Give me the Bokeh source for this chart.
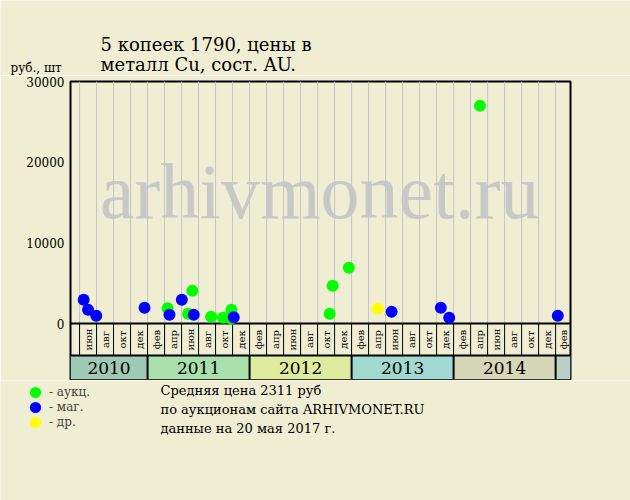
import numpy as np
import pandas as pd
from bokeh.plotting import figure
from bokeh.layouts import column
from bokeh.models import Range1d, FixedTicker, Label, Legend, LegendItem
from bokeh.core.properties import value
from bokeh.embed import file_html
from bokeh.resources import INLINE

# ---------------- data ----------------
TITLE_1 = "5 копеек 1790, цены в"
TITLE_2 = "металл Cu, сост. AU."
Y_UNITS = "руб., шт"
NOTES = ["Средняя цена 2311 руб",
         "по аукционам сайта ARHIVMONET.RU",
         "данные на 20 мая 2017 г."]
LEGEND_LABELS = ["- аукц.", "- маг.", "- др."]
WATERMARK = "arhivmonet.ru"

green_dates = ["2011-03-12", "2011-05-25", "2011-06-09", "2011-08-16", "2011-09-27",
               "2011-10-28", "2011-10-27", "2012-10-14", "2012-10-25", "2012-12-22",
               "2014-04-04"]
green_prices = [1900, 1200, 4050, 830, 700, 1700, 600, 1200, 4670, 6900, 27000]

blue_dates = ["2010-05-16", "2010-06-01", "2010-06-30", "2010-12-21", "2011-03-19",
              "2011-05-02", "2011-06-14", "2011-11-05", "2013-05-23", "2013-11-16",
              "2013-12-16", "2015-01-09"]
blue_prices = [2940, 1700, 950, 1950, 1080, 2940, 1080, 780, 1450, 1950, 700, 950]

yellow_dates = ["2013-04-03"]
yellow_prices = [1820]

YEARS = ["2010", "2011", "2012", "2013", "2014", "2015"]
YEAR_COLORS = ["#9EC9B5", "#A8DFAB", "#DFECA0", "#A1D8CF", "#D6D6B8", "#BCCFC6"]
MONTHS = ["фев", "апр", "июн", "авг", "окт", "дек"]
Y_TICKS = [0, 10000, 20000, 30000]
X_START = "2010-03-30"
X_END = "2015-02-22"

SERIES_COLORS = ["#00FF00", "#0000FF", "#FFFF00"]

# ---------------- helpers ----------------
BASE_YEAR = 2010
BG = "#EFEED2"
FONT = "DejaVu Serif"
K_MID = 0.40          # distance baseline -> middle of text box, in em


def month_index(dates):
    ts = pd.to_datetime(pd.Series(dates))
    return ((ts.dt.year - BASE_YEAR) * 12 + ts.dt.month - 1
            + (ts.dt.day - 1) / ts.dt.days_in_month).to_numpy(dtype=float)


def blank_fig(w, h):
    f = figure(width=w, height=h, output_backend="svg", toolbar_location=None,
               x_range=Range1d(0, w), y_range=Range1d(0, h),
               x_axis_location=None, y_axis_location=None,
               min_border=0, min_border_left=0, min_border_right=0,
               min_border_top=0, min_border_bottom=0,
               background_fill_color=BG, border_fill_color=BG, outline_line_color=None)
    f.xgrid.visible = False
    f.ygrid.visible = False
    if "frame_align" in f.properties():
        f.frame_align = False
    return f


# page layout (pixels): top strip 0..75, chart 75..380 (frame 81..379), bottom strip 380..500
TOP_H, MAIN_H, BOT_H = 75, 305, 120

# ---------------- top strip: titles ----------------
top = blank_fig(630, TOP_H)
X_OFF = 0 if "frame_align" in top.properties() else 70


def text_label(fig, txt, x, y_mid, size, font=FONT, color="black", align="left"):
    fig.add_layout(Label(x=x - X_OFF, y=y_mid, x_units="screen", y_units="screen",
                         text=txt, text_align=align, text_baseline="middle",
                         text_font=font, text_font_size="%dpx" % size,
                         text_color=color))


for txt, base, size, px in ((TITLE_1, 51, 18, 100), (TITLE_2, 71, 18, 100), (Y_UNITS, 72, 12, 10)):
    text_label(top, txt, px, TOP_H - (base - K_MID * size), size)

# ---------------- main chart ----------------
x0 = float(month_index([X_START])[0])
x1 = float(month_index([X_END])[0])
Y_MAX = Y_TICKS[-1]
y_bottom = -Y_MAX * 56.0 / 242.0   # two bands below zero: 32px months + 24px years
band_mid = -Y_MAX * 32.0 / 242.0

FRAME_L = 70
FRAME_B_PAGE = 379

p = figure(width=630, height=MAIN_H, output_backend="svg", toolbar_location=None,
           x_range=Range1d(x0, x1), y_range=Range1d(y_bottom, Y_MAX),
           x_axis_location=None, y_axis_location="left",
           min_border_left=70, min_border_right=60, min_border_top=6, min_border_bottom=1,
           background_fill_color=BG, border_fill_color=BG,
           outline_line_color="black", outline_line_width=2)
p.xgrid.visible = False
p.ygrid.visible = False

yax = p.yaxis[0]
yax.ticker = FixedTicker(ticks=Y_TICKS)
yax.major_tick_out = 0
yax.major_tick_in = 0
yax.minor_tick_out = 0
yax.minor_tick_in = 0
yax.axis_line_color = None
yax.major_label_text_font = FONT
yax.major_label_text_font_size = "12px"
yax.major_label_text_color = "black"
yax.major_label_standoff = 6

# watermark (inside the frame)
p.add_layout(Label(x=319 - FRAME_L, y=FRAME_B_PAGE - (222 - K_MID * 78),
                   x_units="screen", y_units="screen", text=WATERMARK,
                   text_align="center", text_baseline="middle",
                   text_font="Liberation Serif", text_font_size="78px",
                   text_color="#C8C8C8", level="underlay"))

# vertical grid (every two months)
grid_x = [m for m in range(0, 64, 2) if x0 < m < x1]
p.segment(x0=grid_x, y0=0, x1=grid_x, y1=Y_MAX, line_color="#C4C4CC", line_width=1)

# year band
year_starts = [x0] + [float(12 * i) for i in range(1, len(YEARS))]
year_ends = [float(12 * i) for i in range(1, len(YEARS))] + [x1]
p.quad(left=year_starts, right=year_ends, bottom=y_bottom, top=band_mid,
       fill_color=YEAR_COLORS, line_color=None)
p.segment(x0=year_starts[1:], y0=y_bottom, x1=year_starts[1:], y1=band_mid,
          line_color="black", line_width=2)
year_centers = [(a + b) / 2 for a, b in zip(year_starts, year_ends)][:5]
p.text(x=year_centers, y=(y_bottom + band_mid) / 2, text=YEARS[:5],
       text_align="center", text_baseline="middle",
       text_font=value(FONT), text_font_size="17px", text_color="black")

# month band
p.segment(x0=grid_x, y0=band_mid, x1=grid_x, y1=0, line_color="black", line_width=1)
p.segment(x0=[x0, x0], y0=[0, band_mid], x1=[x1, x1], y1=[0, band_mid],
          line_color="black", line_width=2)
cell_centers = [(max(s, x0) + min(s + 2, x1)) / 2 for s in grid_x]
cell_labels = [MONTHS[((s + 2) // 2 - 1) % 6] for s in grid_x]
p.text(x=cell_centers, y=band_mid / 2, text=cell_labels, angle=np.pi / 2,
       text_align="center", text_baseline="middle",
       text_font=value(FONT), text_font_size="10px", text_color="black")

# points
series = [(green_dates, green_prices, SERIES_COLORS[0]),
          (yellow_dates, yellow_prices, SERIES_COLORS[2]),
          (blue_dates, blue_prices, SERIES_COLORS[1])]
for dts, prices, col in series:
    p.scatter(month_index(dts), prices, size=12, fill_color=col, line_color=None)

# ---------------- bottom strip: legend + notes ----------------
bot = blank_fig(630, BOT_H)
legend_series = [(green_dates, green_prices), (blue_dates, blue_prices), (yellow_dates, yellow_prices)]
for lab, col, (dts, prices), cy in zip(LEGEND_LABELS, SERIES_COLORS, legend_series,
                                       (391.7, 407.3, 422.3)):
    # swatch renderer: same style as the chart series; its data lie outside this strip's ranges
    swatch = bot.scatter(x=month_index(dts), y=prices, size=12, fill_color=col, line_color=None)
    lg = Legend(items=[LegendItem(label=lab, renderers=[swatch])],
                location=(21 - X_OFF, 500 - (cy + 14)), orientation="vertical",
                glyph_width=28, glyph_height=28, padding=0, margin=0, spacing=0,
                label_standoff=0, label_height=14,
                border_line_color=None, background_fill_alpha=0,
                label_text_font=FONT, label_text_font_size="12px",
                label_text_baseline="middle")
    bot.add_layout(lg, "center")
for txt, base in zip(NOTES, (395, 414, 433)):
    text_label(bot, txt, 160, 500 - (base - K_MID * 13), 13)

layout = column(top, p, bot, spacing=0)

html = file_html(layout, INLINE)
html = html.replace("<body>", '<body style="background-color:%s;">' % BG, 1)
open("out.html", "w").write(html)
